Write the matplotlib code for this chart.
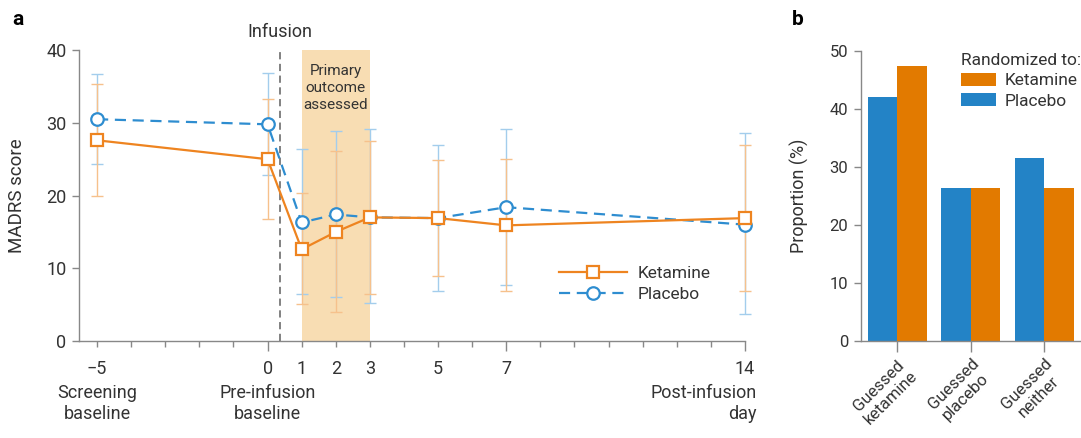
import matplotlib
matplotlib.use('Agg')
import matplotlib.pyplot as plt
import numpy as np
from matplotlib.ticker import FixedLocator

plt.rcParams['font.family'] = ['Roboto', 'DejaVu Sans']
plt.rcParams['font.size'] = 13
plt.rcParams['text.color'] = '#333333'
plt.rcParams['axes.labelcolor'] = '#333333'
plt.rcParams['xtick.color'] = '#888888'
plt.rcParams['ytick.color'] = '#888888'
plt.rcParams['xtick.labelcolor'] = '#333333'
plt.rcParams['ytick.labelcolor'] = '#333333'

# MADRS scores by study day (mean with lower/upper bar ends)
days = [-5, 0, 1, 2, 3, 5, 7, 14]
ket_mean = [27.6, 25.0, 12.6, 15.0, 17.0, 16.9, 15.9, 16.9]
ket_low = [19.9, 16.8, 5.1, 4.0, 6.5, 9.0, 6.9, 6.9]
ket_high = [35.3, 33.3, 20.3, 26.1, 27.5, 24.9, 25.0, 27.0]
pla_mean = [30.5, 29.8, 16.3, 17.4, 17.0, 16.9, 18.4, 16.0]
pla_low = [24.3, 22.8, 6.5, 6.0, 5.2, 6.9, 7.7, 3.7]
pla_high = [36.7, 36.9, 26.4, 28.9, 29.1, 27.0, 29.2, 28.6]

tick_days = [-5, 0, 1, 2, 3, 5, 7, 14]
tick_text = ['\u22125', '0', '1', '2', '3', '5', '7', '14']
infusion_day = 0.36

# blinding guess proportions
guess_labels = ['Guessed\nketamine', 'Guessed\nplacebo', 'Guessed\nneither']
prop_placebo = [42.1, 26.3, 31.6]
prop_ketamine = [47.4, 26.3, 26.3]

orange = '#EE8420'
blue = '#2E8DD0'
orange_err = '#F6C18C'
blue_err = '#A3CDEC'
orange_bar = '#E27A00'
blue_bar = '#2383C6'
grey = '#888888'

fig = plt.figure(figsize=(10.81, 4.38), dpi=100)
ax = fig.add_axes([0.0731, 0.2215, 0.616, 0.664])
bx = fig.add_axes([0.7962, 0.2221, 0.2038, 0.661])

# ---- panel a ----
ax.axvspan(1, 3, color='#F8DDB3', zorder=0, lw=0)
ax.axvline(infusion_day, ymin=0, ymax=1.0, color='#777777', ls=(0, (4, 2.5)), lw=1.3, zorder=1)

km, pm = np.array(ket_mean), np.array(pla_mean)
ax.errorbar(days, pm, yerr=[pm - np.array(pla_low), np.array(pla_high) - pm],
            fmt='none', ecolor=blue_err, elinewidth=1, capsize=4, capthick=1,
            zorder=2, clip_on=False)
ax.errorbar(days, km, yerr=[km - np.array(ket_low), np.array(ket_high) - km],
            fmt='none', ecolor=orange_err, elinewidth=1, capsize=4, capthick=1,
            zorder=2, clip_on=False)

ax.plot(days, pla_mean, color=blue, lw=1.6, ls=(0, (5, 3)), marker='o', ms=9,
        mfc='white', mec=blue, mew=1.6, label='Placebo', zorder=3, clip_on=False)
ax.plot(days, ket_mean, color=orange, lw=1.6, marker='s', ms=9,
        mfc='white', mec=orange, mew=1.6, label='Ketamine', zorder=4, clip_on=False)

ax.set_xlim(-5.53, 14.0)
ax.set_ylim(0, 40)
ax.set_yticks([0, 10, 20, 30, 40])
ax.set_xticks(tick_days)
ax.set_xticklabels(tick_text)
ax.xaxis.set_minor_locator(FixedLocator([d for d in range(-4, 14) if d not in tick_days]))
ax.tick_params(axis='x', which='major', length=4, width=1, pad=10)
ax.tick_params(axis='x', which='minor', length=4, width=1)
ax.tick_params(axis='y', length=5, width=1, pad=4)
for t, d in zip(ax.xaxis.get_major_ticks(), tick_days):
    if d in (0, 7, 14):
        t.tick1line.set_markersize(7)

for s in ('top', 'right'):
    ax.spines[s].set_visible(False)
for s in ('left', 'bottom'):
    ax.spines[s].set_color(grey)
    ax.spines[s].set_linewidth(1)

ax.set_ylabel('MADRS score', fontsize=13.5)
ax.yaxis.set_label_coords(-0.079, 0.5)

ax.text(-5, -8.6, 'Screening\nbaseline', ha='center', va='center', linespacing=1.2, clip_on=False)
ax.text(0, -8.6, 'Pre-infusion\nbaseline', ha='center', va='center', linespacing=1.2, clip_on=False)
ax.text(14.35, -8.6, 'Post-infusion\nday', ha='right', va='center', multialignment='right',
        linespacing=1.2, clip_on=False)
ax.text(infusion_day, 42.5, 'Infusion', ha='center', va='center', clip_on=False)
ax.text(2, 34.8, 'Primary\noutcome\nassessed', ha='center', va='center', fontsize=11,
        linespacing=1.25)

handles, labels = ax.get_legend_handles_labels()
ax.legend(handles[::-1], labels[::-1], loc='center', bbox_to_anchor=(0.835, 0.196),
          frameon=False, handlelength=3.9, numpoints=1, labelspacing=0.3,
          handletextpad=0.6, fontsize=12.5)

# ---- panel b ----
xpos = np.arange(len(guess_labels))
bx.bar(xpos - 0.2, prop_placebo, width=0.4, color=blue_bar, label='Placebo')
bx.bar(xpos + 0.2, prop_ketamine, width=0.4, color=orange_bar, label='Ketamine')
bx.set_xlim(-0.5, 2.5)
bx.set_ylim(0, 50)
bx.set_yticks([0, 10, 20, 30, 40, 50])
bx.tick_params(axis='y', labelsize=12)
bx.set_xticks(xpos)
bx.set_xticklabels(guess_labels, rotation=45, ha='right', va='top', rotation_mode='anchor',
                   multialignment='center', fontsize=12)
bx.tick_params(axis='x', length=8, width=1, pad=3)
bx.tick_params(axis='y', length=5, width=1, pad=4)
for s in ('top', 'right'):
    bx.spines[s].set_visible(False)
for s in ('left', 'bottom'):
    bx.spines[s].set_color(grey)
    bx.spines[s].set_linewidth(1)
bx.set_ylabel('Proportion (%)', fontsize=13)
bx.yaxis.set_label_coords(-0.235, 0.5)

bh, bl = bx.get_legend_handles_labels()
leg = bx.legend(bh[::-1], bl[::-1], title='Randomized to:', loc='upper left',
                bbox_to_anchor=(0.455, 0.995), frameon=False, handlelength=2.0,
                handleheight=0.75, handletextpad=0.5, labelspacing=0.3,
                borderaxespad=0, borderpad=0, fontsize=12.5, title_fontsize=12.5)
leg._legend_box.align = 'left'

fig.text(0.011, 0.955, 'a', fontsize=15, fontweight='bold', color='black', va='center')
fig.text(0.733, 0.955, 'b', fontsize=15, fontweight='bold', color='black', va='center')

fig.savefig('out.png', dpi=100)
